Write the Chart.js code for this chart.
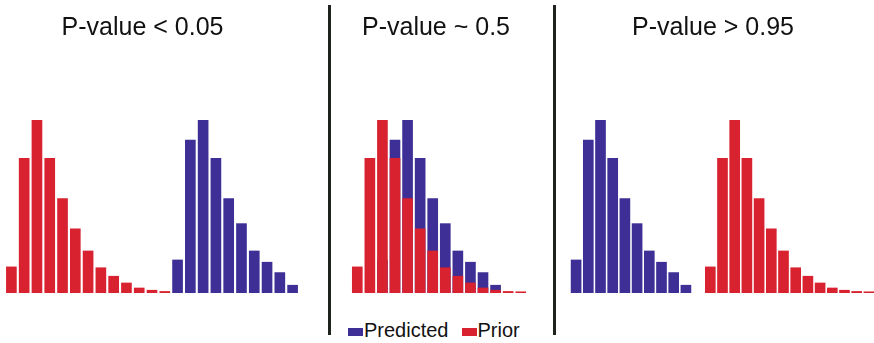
<!DOCTYPE html>
<html>
<head>
<meta charset="utf-8">
<script src="https://cdn.jsdelivr.net/npm/chart.js@4/dist/chart.umd.min.js"></script>
<style>
  html, body { margin: 0; padding: 0; background: #fff; }
  #page { position: relative; width: 874px; height: 343px; overflow: hidden; font-family: "Liberation Sans", Arial, sans-serif; }
  canvas { position: absolute; top: 0; }
  .divider { position: absolute; top: 5px; width: 3px; height: 330px; background: #1e231e; z-index: 2; }
  #legend { position: absolute; left: 348px; top: 319px; font-size: 20px; line-height: 22px; color: #111; white-space: nowrap; }
  #legend .item { display: inline-block; }
  #legend .item + .item { margin-left: 13px; }
  #legend .box { display: inline-block; width: 15px; height: 8px; margin-right: 1px; vertical-align: 1px; }
</style>
</head>
<body>
<div id="page">
  <canvas id="panel0" width="313" height="293" style="left:-14px"></canvas>
  <canvas id="panel1" width="182" height="293" style="left:345px"></canvas>
  <canvas id="panel2" width="324" height="293" style="left:551px"></canvas>
  <div class="divider" style="left:328px"></div>
  <div class="divider" style="left:553px"></div>
  <div id="legend"></div>
</div>
<script>
// Histogram heights (percent of the tallest bin)
const priorValues = [15.1, 77.8, 100, 77.8, 54.6, 37.1, 24.3, 14.6, 9.7, 5.8, 2.9, 1.6, 0.9, 0.7];
const predictedValues = [19.1, 88.4, 100, 77.8, 54.6, 40.1, 24.3, 17.8, 11.8, 4.5];

// Panels: title, number of bin slots, first slot of each histogram
const panelTitles = ['P-value < 0.05', 'P-value ~ 0.5', 'P-value > 0.95'];
const panelSlots = [23, 14, 25];
const priorStart = [0, 0, 11];
const priorShown = [13, 14, 14]; // first panel: last prior bin sits under the predicted one
const predictedStart = [13, 2, 0];

const seriesNames = ['Predicted', 'Prior'];
const RED = '#d9222f';
const BLUE = '#3d2f95';

// left gutter of each canvas, keeps the title centred where the original has it
const gutters = [19, 6, 19];

function placeSeries(values, start, count) {
    const out = new Array(count).fill(null);
    values.forEach((v, i) => {
        if (start + i < count) out[start + i] = v;
    });
    return out;
}

const charts = panelTitles.map((title, p) => {
    const count = panelSlots[p];
    const labels = Array.from({length: count}, (_, i) => String(i + 1));
    return new Chart(document.getElementById('panel' + p), {
        type: 'bar',
        data: {
            labels: labels,
            datasets: [
                {
                    label: seriesNames[1],
                    data: placeSeries(priorValues.slice(0, priorShown[p]), priorStart[p], count),
                    backgroundColor: RED,
                    order: 1
                },
                {
                    label: seriesNames[0],
                    data: placeSeries(predictedValues, predictedStart[p], count),
                    backgroundColor: BLUE,
                    order: 2
                }
            ]
        },
        options: {
            responsive: false,
            animation: false,
            events: [],
            layout: { padding: 0 },
            datasets: {
                bar: { grouped: false, barThickness: 10, borderWidth: 0 }
            },
            scales: {
                x: { display: false },
                y: {
                    display: true,
                    min: 0,
                    max: 100,
                    ticks: { display: false },
                    grid: { display: false },
                    border: { display: false },
                    afterFit: scale => { scale.width = gutters[p]; }
                }
            },
            plugins: {
                legend: { display: false },
                tooltip: { enabled: false },
                title: {
                    display: true,
                    text: title,
                    color: '#111',
                    font: { family: '"Liberation Sans", Arial, sans-serif', size: 25, weight: 'normal', lineHeight: 1.2 },
                    padding: { top: 13.6, bottom: 76.4 }
                }
            }
        }
    });
});

// legend under the middle panel, built from that chart's datasets
const legendEl = document.getElementById('legend');
const middle = charts[1];
seriesNames.forEach(name => {
    const ds = middle.data.datasets.find(d => d.label === name);
    const item = document.createElement('span');
    item.className = 'item';
    const box = document.createElement('span');
    box.className = 'box';
    box.style.background = ds.backgroundColor;
    item.appendChild(box);
    item.appendChild(document.createTextNode(ds.label));
    legendEl.appendChild(item);
});
</script>
</body>
</html>
